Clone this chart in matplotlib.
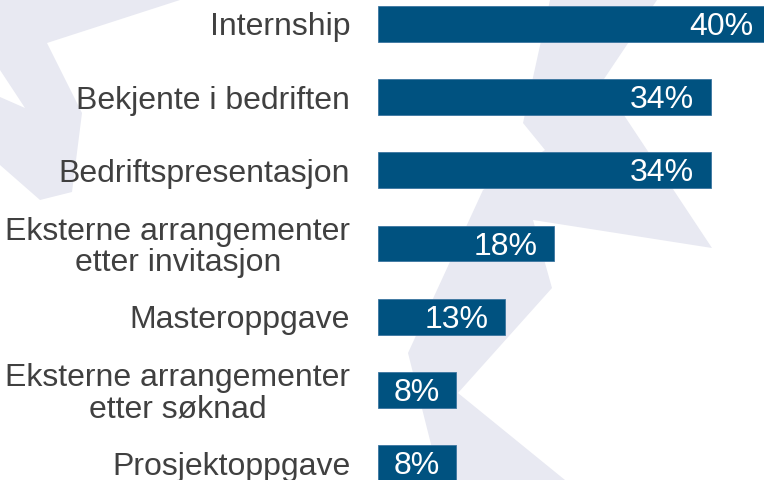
import matplotlib
matplotlib.use("Agg")
from matplotlib import pyplot as plt
from matplotlib.patches import Polygon

categories = [
    "Internship",
    "Bekjente i bedriften",
    "Bedriftspresentasjon",
    "Eksterne arrangementer\netter invitasjon",
    "Masteroppgave",
    "Eksterne arrangementer\netter søknad",
    "Prosjektoppgave",
]
values = [40, 34, 34, 18, 13, 8, 8]
value_labels = ["40%", "34%", "34%", "18%", "13%", "8%", "8%"]

BAR_COLOR = "#005280"
TEXT_COLOR = "#404040"
SHAPE_COLOR = "#E8E9F2"

# watermark shapes in the background (pixel coordinates of the slide)
check_shape = [(0, 0), (180, 0), (47, 43), (82, 113), (72, 192), (40, 200),
               (0, 165), (0, 97), (25, 108), (0, 70)]
bolt_shape = [(550, 0), (657, 0), (602, 82), (712, 248), (533, 220), (552, 288),
              (458, 393), (565, 480), (440, 480), (408, 353), (483, 190),
              (545, 150), (523, 123)]

plt.rcParams["font.family"] = ["Liberation Sans", "DejaVu Sans"]

fig = plt.figure(figsize=(7.64, 4.8), dpi=100)

# background layer
bg = fig.add_axes([0, 0, 1, 1], zorder=0)
bg.set_xlim(0, 764)
bg.set_ylim(480, 0)
bg.axis("off")
for shape in (check_shape, bolt_shape):
    bg.add_patch(Polygon(shape, closed=True, facecolor=SHAPE_COLOR, edgecolor="none"))

# bar chart
ax = fig.add_axes([378 / 764, 0, 386 / 764, 1], zorder=1)
ax.patch.set_alpha(0)
pos = list(range(len(categories)))
ax.barh(pos, values, height=0.49, color=BAR_COLOR, edgecolor="#3C75A0", linewidth=0.6)
ax.set_xlim(0, 386 / 9.8)
ax.set_ylim(6.232, -0.328)

ax.set_yticks(pos)
ax.set_yticklabels(categories, fontsize=23, color=TEXT_COLOR, linespacing=1.05)
for lbl in ax.get_yticklabels():
    lbl.set_multialignment("center")
ax.tick_params(axis="y", length=0, pad=20)
ax.set_xticks([])
for s in ax.spines.values():
    s.set_visible(False)

for p, v, t in zip(pos, values, value_labels):
    ax.annotate(t, (v, p), xytext=(-17, -3), textcoords="offset pixels",
                ha="right", va="center", color="white", fontsize=23,
                annotation_clip=False)

fig.savefig("out.png", dpi=100)
